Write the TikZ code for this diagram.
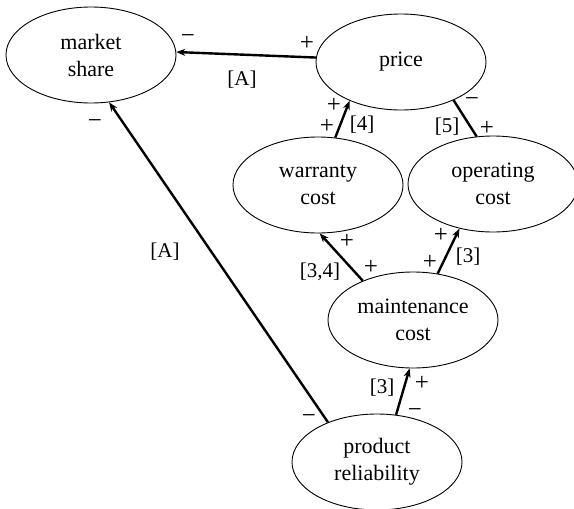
\documentclass[tikz,border=0pt]{standalone}
\usepackage{fontspec}
\setmainfont{Liberation Serif}
\usetikzlibrary{shapes.geometric,arrows.meta}
\begin{document}
\begin{tikzpicture}[x=1pt,y=-1pt,
  var/.style={ellipse,draw,line width=0.9pt,minimum width=170pt,minimum height=96pt,inner sep=0pt,align=center,font=\fontsize{22}{27}\selectfont},
  link/.style={line width=2.4pt,-{Stealth[length=9pt,width=7pt]}},
  plain/.style={line width=2.4pt},
  lab/.style={inner sep=0pt,font=\fontsize{21}{24}\selectfont},
  sgn/.style={inner sep=0pt,font=\fontsize{25}{27}\selectfont}]
\useasboundingbox (0,0) rectangle (574,509);
\node[var] (ms) at (91,55) {market\\share};
\node[var] (pr) at (401,62) {price};
\node[var] (wc) at (318,185) {warranty\\cost};
\node[var] (oc) at (493,184) {operating\\cost};
\node[var] (mc) at (413,320) {maintenance\\cost};
\node[var] (rel) at (377,462) {product\\reliability};
\draw[link] (pr.177) -- (ms.2);
\draw[link] (wc.70.5) -- (pr.217.8);
\draw[plain] (pr.324.6) -- (oc.109.5);
\draw[link] (mc.142) -- (wc.272.3);
\draw[link] (mc.62) -- (oc.233.6);
\draw[link] (rel.68.9) -- (mc.266.4);
\draw[link] (rel.141.5) -- (ms.291.6);
\node[sgn] (l1) at (188,39) {−};
\node[sgn] (l2) at (307,43) {+};
\node[lab] (l3) at (242,80) {[A]};
\node[sgn] (l4) at (334,105) {+};
\node[sgn] (l5) at (327,126) {+};
\node[lab] (l6) at (362,125) {[4]};
\node[sgn] (l7) at (472,102) {−};
\node[lab] (l8) at (447,127) {[5]};
\node[sgn] (l9) at (487,128) {+};
\node[sgn] (l10) at (347,241) {+};
\node[sgn] (l11) at (371,267) {+};
\node[lab] (l12) at (320,272) {[3,4]};
\node[sgn] (l13) at (441,235) {+};
\node[sgn] (l14) at (430,262) {+};
\node[lab] (l15) at (468,257) {[3]};
\node[lab] (l16) at (382,388) {[3]};
\node[sgn] (l17) at (422,383) {+};
\node[sgn] (l18) at (415,413) {−};
\node[sgn] (l19) at (309,419) {−};
\node[sgn] (l20) at (95,124) {−};
\node[lab] (l21) at (165,252) {[A]};
\end{tikzpicture}
\end{document}
